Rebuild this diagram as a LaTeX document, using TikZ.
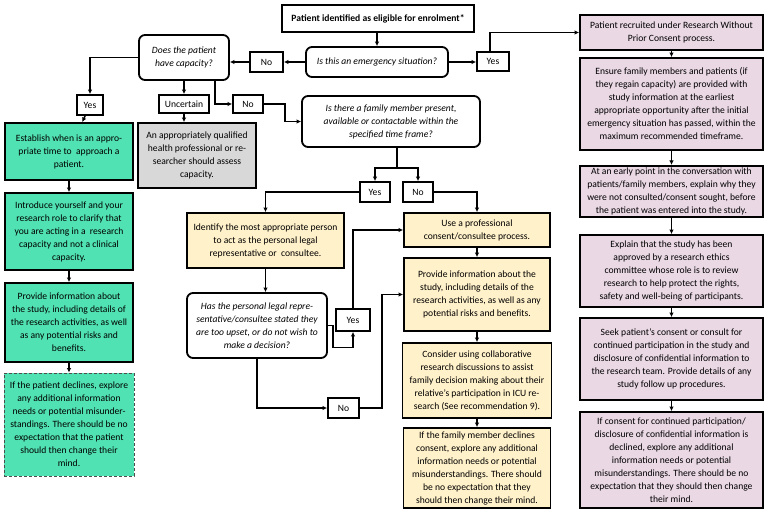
\documentclass[tikz,border=0pt]{standalone}
\usepackage{fontspec}
\setmainfont{Carlito}
\usepackage{xcolor}
\usetikzlibrary{arrows.meta}

\definecolor{mint}{RGB}{80,226,178}
\definecolor{ashgrey}{RGB}{216,216,216}
\definecolor{cream}{RGB}{255,241,202}
\definecolor{mauve}{RGB}{234,216,228}

\begin{document}
\begin{tikzpicture}[x=1pt, y=-1pt,
        every node/.style={font=\fontsize{9.6}{13}\selectfont, align=center, inner sep=2pt},
        plainbox/.style={draw, line width=1.8pt},
        dims/.style 2 args={minimum width=#1pt, minimum height=#2pt},
        question/.style={plainbox, rounded corners=6pt, font=\fontsize{9.6}{13}\selectfont\itshape},
        answer/.style={plainbox},
        greenbox/.style={plainbox, fill=mint},
        greybox/.style={plainbox, fill=ashgrey},
        yellowbox/.style={plainbox, fill=cream},
        pinkbox/.style={plainbox, fill=mauve},
        arr/.style={line width=1.5pt, -{Latex[length=4.5pt,width=4.5pt]}},
        line/.style={line width=1.5pt}]
        \fill[white] (0,0) rectangle (768,521);
        \useasboundingbox (0,0) rectangle (768,521);

        \node[plainbox, dims={192}{27}, font=\fontsize{9.6}{13}\selectfont\bfseries] (top) at (378,18.5) {Patient identified as eligible for enrolment*};
        \node[question, dims={142}{30}] (emerg) at (377,62) {Is this an emergency situation?};
        \node[answer, dims={33}{20}] (noE) at (266.5,62) {No};
        \node[answer, dims={32}{19}] (yesE) at (493,61.5) {Yes};
        \node[question, dims={90}{45}] (cap) at (184,57.5) {Does the patient\\have capacity?};

        \node[answer, dims={26}{20}] (yesC) at (90,105) {Yes};
        \node[answer, dims={50}{18}] (unc) at (184,104) {Uncertain};
        \node[answer, dims={30}{18}] (noC) at (248,104) {No};

        \node[greenbox, dims={128}{57}] (estab) at (69,151.5) {Establish when is an appro-\\priate time to\ \ approach a\\patient.};
        \node[greenbox, dims={128}{77}] (intro) at (69,231.5) {Introduce yourself and your\\research role to clarify that\\you are acting in a\ \ research\\capacity and not a clinical\\capacity.};
        \node[greenbox, dims={128}{79}] (provG) at (69,322.5) {Provide information about\\the study, including details of\\the research activities, as well\\as any potential risks and\\benefits.};
        \node[greenbox, draw=black!70, line width=0.8pt, densely dashed, dims={130}{103}] (ifPat) at (69,424.5) {If the patient declines, explore\\any additional information\\needs or potential misunder-\\standings. There should be no\\expectation that the patient\\should then change their\\mind.};

        \node[greybox, dims={118}{65}] (grey) at (197,155.5) {An appropriately qualified\\health professional or re-\\searcher should assess\\capacity.};

        \node[question, dims={178}{51}] (fam) at (391,121.5) {Is there a family member present,\\available or contactable within the\\specified time frame?};
        \node[answer, dims={30}{20}] (yesF) at (375,192) {Yes};
        \node[answer, dims={30}{20}] (noF) at (418,192) {No};

        \node[yellowbox, dims={157}{55}] (ident) at (265.5,240.5) {Identify the most appropriate person\\to act as the personal legal\\representative or\ \ consultee.};
        \node[question, dims={140}{65}] (hasQ) at (257,325.5) {Has the personal legal repre-\\sentative/consultee stated they\\are too upset, or do not wish to\\make a decision?};
        \node[answer, dims={34}{22}] (yesH) at (353,320) {Yes};
        \node[answer, dims={31}{20}] (noH) at (343.5,408) {No};

        \node[yellowbox, dims={146}{34}] (use) at (477,230) {Use a professional\\consent/consultee process.};
        \node[yellowbox, dims={146}{73}] (provY) at (477,294.5) {Provide information about the\\study, including details of the\\research activities, as well as any\\potential risks and benefits.};
        \node[yellowbox, dims={149}{75}] (cons) at (477,380.5) {Consider using collaborative\\research discussions to assist\\family decision making about their\\relative's participation in ICU re-\\search (See recommendation 9).};
        \node[yellowbox, dims={147}{80}] (ifFam) at (477,468) {If the family member declines\\consent, explore any additional\\information needs or potential\\misunderstandings. There should\\be no expectation that they\\should then change their mind.};

        \node[pinkbox, dims={183}{35}] (p1) at (671.5,32.5) {Patient recruited under Research Without\\Prior Consent process.};
        \node[pinkbox, dims={183}{92}] (p2) at (671.5,104) {Ensure family members and patients (if\\they regain capacity) are provided with\\study information at the earliest\\appropriate opportunity after the initial\\emergency situation has passed, within the\\maximum recommended timeframe.};
        \node[pinkbox, dims={183}{43}] (p3) at (671.5,191.5) {At an early point in the conversation with\\patients/family members, explain why they\\were not consulted/consent sought, before\\the patient was entered into the study.};
        \node[pinkbox, dims={183}{72}] (p4) at (671.5,271) {Explain that the study has been\\approved by a research ethics\\committee whose role is to review\\research to help protect the rights,\\safety and well-being of participants.};
        \node[pinkbox, dims={183}{82}] (p5) at (671.5,359) {Seek patient's consent or consult for\\continued participation in the study and\\disclosure of confidential information to\\the research team. Provide details of any\\study follow up procedures.};
        \node[pinkbox, dims={183}{96}] (p6) at (671.5,460) {If consent for continued participation/\\disclosure of confidential information is\\declined, explore any additional\\information needs or potential\\misunderstandings. There should be no\\expectation that they should then change\\their mind.};

        \draw[arr] (top.south -| emerg.north) -- (emerg.north);
        \draw[arr] (emerg.west) -- (noE.east);
        \draw[arr] (noE.west) -- (noE.west -| cap.east);
        \draw[arr] (emerg.east) -- (emerg.east -| yesE.west);
        \draw[arr] ([xshift=-3pt]yesE.north) |- (p1.west);
        \draw[arr] (p1) -- (p2);
        \draw[arr] (p2) -- (p3);
        \draw[arr] (p3) -- (p4);
        \draw[arr] (p4) -- (p5);
        \draw[arr] (p5) -- (p6);

        \draw[arr] (cap.west) -| (yesC.north);
        \draw[arr] (yesC) -- (estab);
        \draw[arr] (estab) -- (intro);
        \draw[arr] (intro) -- (provG);
        \draw[arr] (provG) -- (ifPat);
        \draw[arr] (cap) -- (unc);
        \draw[arr] (unc.south) -- (unc.south |- grey.north);
        \draw[arr] ([xshift=31pt]cap.south) |- (noC.west);
        \draw[arr] (noC.east) -- ++(21,0) |- (fam.west);

        \draw[line] ([xshift=6pt]fam.south) -- ++(0,20) coordinate (fsplit);
        \draw[arr] (fsplit) -| (yesF.north);
        \draw[arr] (fsplit) -| (noF.north);
        \draw[arr] (yesF.west) -| (ident.north);
        \draw[arr] (noF.east) -| (use.north);

        \draw[arr] (ident.south) -- (ident.south |- hasQ.north);
        \draw[arr] (hasQ.east) -- ++(5,0) -- ++(0,22) -| (yesH.south);
        \draw[arr] (yesH.north) |- (use.west);
        \draw[arr] (hasQ.south) |- (noH.west);
        \draw[arr] (noH.east) -- ++(22,0) |- (provY.west);

        \draw[arr] (use) -- (provY);
        \draw[arr] (provY) -- (cons);
        \draw[arr] (cons) -- (ifFam);
      \end{tikzpicture}
\end{document}
